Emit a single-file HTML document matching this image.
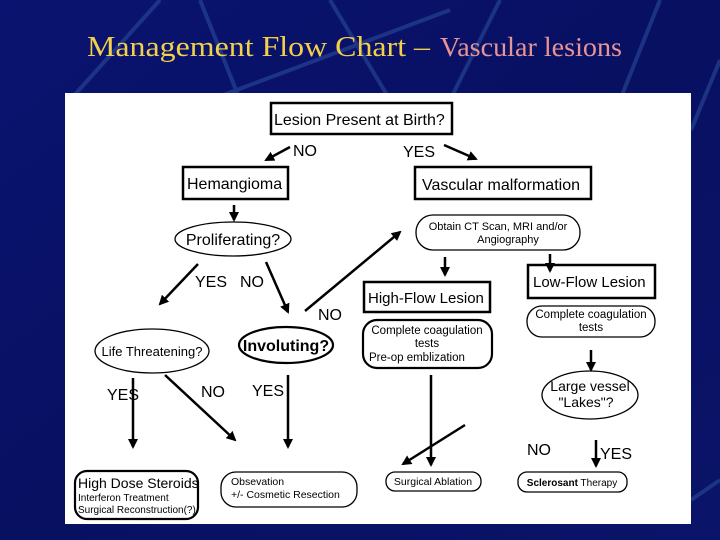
<!DOCTYPE html>
<html><head><style>html,body{margin:0;padding:0;background:#071060;}svg{display:block}</style></head><body>
<svg width="720" height="540" viewBox="0 0 720 540" xmlns="http://www.w3.org/2000/svg">
<defs>
<linearGradient id="bg" x1="0" y1="0" x2="1" y2="1"><stop offset="0" stop-color="#0a1470"/><stop offset="0.5" stop-color="#081062"/><stop offset="1" stop-color="#0a1468"/></linearGradient>
<marker id="a" markerWidth="10" markerHeight="10" refX="8" refY="5" orient="auto" markerUnits="userSpaceOnUse"><path d="M0,0 L10,5 L0,10 Z" fill="#000"/></marker>
</defs>
<rect width="720" height="540" fill="url(#bg)"/>
<g stroke="#2a4a9a" stroke-width="4" opacity="0.6">
<line x1="70" y1="100" x2="160" y2="0"/><line x1="200" y1="0" x2="240" y2="100"/><line x1="330" y1="0" x2="390" y2="100"/><line x1="500" y1="0" x2="450" y2="100"/><line x1="660" y1="0" x2="620" y2="100"/><line x1="210" y1="100" x2="450" y2="10"/>
<line x1="691" y1="130" x2="720" y2="60"/><line x1="691" y1="500" x2="720" y2="480"/>
</g>
<text x="87" y="56" font-family="Liberation Serif, serif" font-size="29" fill="#f2d04a" textLength="343" lengthAdjust="spacingAndGlyphs">Management Flow Chart –</text>
<text x="440" y="56" font-family="Liberation Serif, serif" font-size="27" fill="#e89494" textLength="182" lengthAdjust="spacingAndGlyphs">Vascular lesions</text>
<rect x="65" y="93" width="626" height="431" fill="#fff"/>
<g font-family="Liberation Sans, sans-serif" fill="#000" stroke="#000">
<g fill="none" stroke-width="2.5">
<rect x="271" y="103" width="181" height="31"/>
<rect x="183" y="167" width="105" height="32"/>
<rect x="415" y="167" width="176" height="32"/>
<rect x="364" y="282" width="126" height="30"/>
<rect x="528" y="265" width="127" height="33"/>
</g>
<g fill="none" stroke-width="1.3">
<ellipse cx="233" cy="239" rx="58" ry="17"/>
<ellipse cx="152" cy="351" rx="57" ry="22"/>
<ellipse cx="590" cy="395" rx="48" ry="24"/>
<rect x="416" y="215" width="164" height="35" rx="17"/>
<rect x="527" y="306" width="128" height="31" rx="15"/>
<rect x="221" y="472" width="136" height="35" rx="15"/>
<rect x="386" y="472" width="95" height="19" rx="9"/>
<rect x="518" y="472" width="109" height="20" rx="9"/>
</g>
<g fill="none" stroke-width="2.2">
<ellipse cx="286" cy="345" rx="47" ry="18"/>
<rect x="363" y="320" width="129" height="48" rx="14"/>
<rect x="75" y="471" width="123" height="48" rx="12"/>
</g>
<g stroke-width="2.5" marker-end="url(#a)">
<line x1="290" y1="147" x2="266" y2="160"/>
<line x1="444" y1="145" x2="476" y2="159"/>
<line x1="234" y1="205" x2="234" y2="220"/>
<line x1="198" y1="264" x2="160" y2="304"/>
<line x1="266" y1="262" x2="288" y2="312"/>
<line x1="305" y1="311" x2="400" y2="232"/>
<line x1="445" y1="257" x2="445" y2="275"/>
<line x1="550" y1="254" x2="550" y2="271"/>
<line x1="591" y1="350" x2="591" y2="370"/>
<line x1="133" y1="378" x2="133" y2="447"/>
<line x1="165" y1="375" x2="235" y2="440"/>
<line x1="288" y1="375" x2="288" y2="447"/>
<line x1="431" y1="375" x2="431" y2="465"/>
<line x1="465" y1="425" x2="403" y2="464"/>
<line x1="596" y1="440" x2="596" y2="466"/>
</g>
<g stroke="none">
<text x="274" y="125" font-size="16">Lesion Present at Birth?</text>
<text x="293" y="156" font-size="16">NO</text>
<text x="403" y="157" font-size="16">YES</text>
<text x="187" y="189" font-size="16">Hemangioma</text>
<text x="422" y="190" font-size="16">Vascular malformation</text>
<text x="233" y="245" font-size="16" text-anchor="middle">Proliferating?</text>
<text x="498" y="230" font-size="11" text-anchor="middle">Obtain CT Scan, MRI and/or</text>
<text x="508" y="243" font-size="11" text-anchor="middle">Angiography</text>
<text x="195" y="287" font-size="16">YES</text>
<text x="240" y="287" font-size="16">NO</text>
<text x="318" y="320" font-size="16">NO</text>
<text x="368" y="303" font-size="15">High-Flow Lesion</text>
<text x="533" y="287" font-size="15">Low-Flow Lesion</text>
<text x="427" y="334" font-size="11.5" text-anchor="middle">Complete coagulation</text>
<text x="427" y="347" font-size="11.5" text-anchor="middle">tests</text>
<text x="369" y="361" font-size="11.5">Pre-op emblization</text>
<text x="591" y="318" font-size="11.5" text-anchor="middle">Complete coagulation</text>
<text x="591" y="331" font-size="11.5" text-anchor="middle">tests</text>
<text x="152" y="356" font-size="13" text-anchor="middle">Life Threatening?</text>
<text x="286" y="351" font-size="16" font-weight="bold" text-anchor="middle">Involuting?</text>
<text x="590" y="391" font-size="14" text-anchor="middle">Large vessel</text>
<text x="586" y="407" font-size="14" text-anchor="middle">"Lakes"?</text>
<text x="107" y="400" font-size="16">YES</text>
<text x="201" y="397" font-size="16">NO</text>
<text x="252" y="396" font-size="16">YES</text>
<text x="527" y="455" font-size="16">NO</text>
<text x="600" y="459" font-size="16">YES</text>
<text x="78" y="488" font-size="14">High Dose Steroids</text>
<text x="78" y="501" font-size="10">Interferon Treatment</text>
<text x="78" y="513" font-size="10">Surgical Reconstruction(?)</text>
<text x="231" y="485" font-size="10.5">Obsevation</text>
<text x="231" y="498" font-size="10.5">+/- Cosmetic Resection</text>
<text x="433" y="485" font-size="10.5" text-anchor="middle">Surgical Ablation</text>
<text x="572" y="486" font-size="10" text-anchor="middle"><tspan font-weight="bold">Sclerosant</tspan> Therapy</text>
</g>
</g>
</svg>
</body></html>
